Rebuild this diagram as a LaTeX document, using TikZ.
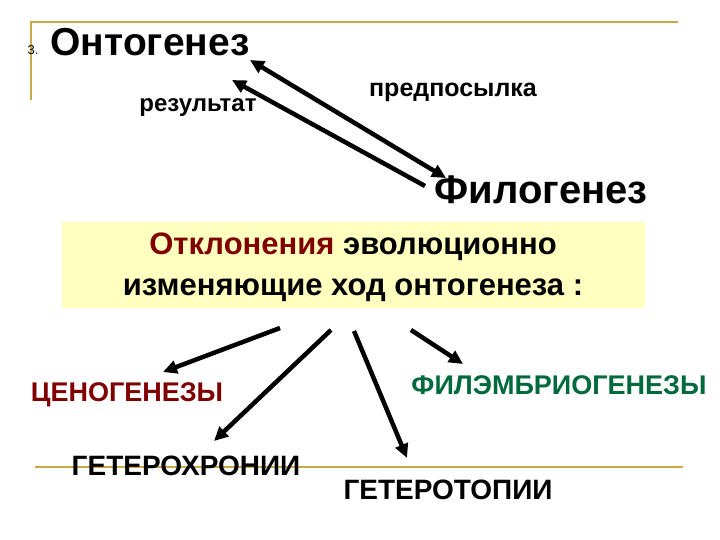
\documentclass[tikz,border=0pt]{standalone}
\usepackage{fontspec}
\setmainfont{Liberation Sans}
\usetikzlibrary{arrows.meta}
\definecolor{gold}{HTML}{C8A848}
\definecolor{dred}{HTML}{800000}
\definecolor{dgreen}{HTML}{006A3C}
\definecolor{boxy}{HTML}{FFFFC0}
\tikzset{
  lbl/.style={font=\bfseries\fontsize{27}{30}\selectfont, inner sep=0pt},
  big/.style={font=\bfseries\fontsize{39}{44}\selectfont, inner sep=0pt},
  arr/.style={line width=4.5pt, -{Triangle[length=14pt,width=13pt]}},
  arr2/.style={line width=4.5pt, {Triangle[length=14pt,width=13pt]}-{Triangle[length=14pt,width=13pt]}},
  rule/.style={gold, line width=1.5pt}
}
\begin{document}
\begin{tikzpicture}[x=1pt,y=-1pt]
\useasboundingbox (0,0) rectangle (720,540);
\draw[rule] (30,22) -- (678,22);
\draw[rule] (31,22) -- (31,100);
\draw[rule] (35,467) -- (683,467);
\node[inner sep=0pt, font=\fontsize{13}{14}\selectfont] (n3) at (33,50) {3.};
\node[big] (onto) at (150,42) {Онтогенез};
\node[big, font=\bfseries\fontsize{40}{44}\selectfont] (filo) at (541,190) {Филогенез};
\node[lbl, font=\bfseries\fontsize{24}{30}\selectfont] (res) at (198,108) {результат};
\node[lbl, font=\bfseries\fontsize{25}{30}\selectfont] (pre) at (453,92) {предпосылка};
\coordinate (a1s) at (250,60);
\coordinate (a1e) at (446,178);
\coordinate (a2s) at (425,186);
\coordinate (a2e) at (232,80);
\draw[arr2] (a1s) -- (a1e);
\draw[arr] (a2s) -- (a2e);
\node[fill=boxy, minimum width=583pt, minimum height=86pt, inner sep=0pt] (box) at (353.5,265) {};
\node[lbl, font=\bfseries\fontsize{31}{41}\selectfont, align=center] (btxt) at (353,267)
  {\textcolor{dred}{Отклонения} эволюционно\\изменяющие ход онтогенеза :};
\node[lbl, dred] (ceno) at (127,395) {ЦЕНОГЕНЕЗЫ};
\node[lbl, font=\bfseries\fontsize{28}{30}\selectfont] (geterox) at (186,466) {ГЕТЕРОХРОНИИ};
\node[lbl, font=\bfseries\fontsize{28}{30}\selectfont] (getero) at (448,490) {ГЕТЕРОТОПИИ};
\node[lbl, dgreen] (filem) at (559,385) {ФИЛЭМБРИОГЕНЕЗЫ};
\coordinate (b1) at (280,328);
\coordinate (b2) at (331,330);
\coordinate (b3) at (354,331);
\coordinate (b4) at (411,330);
\draw[arr] (b1) -- (163,372);
\draw[arr] (b2) -- (214,441);
\draw[arr] (b3) -- (407,458);
\draw[arr] (b4) -- (463,364);
\end{tikzpicture}
\end{document}
